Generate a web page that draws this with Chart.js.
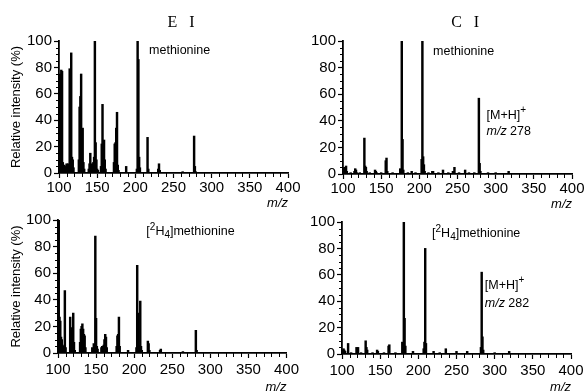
<!DOCTYPE html>
<html>
<head>
<meta charset="utf-8">
<script src="https://cdn.jsdelivr.net/npm/chart.js@4"></script>
<style>
body { margin:0; background:#fff; width:584px; height:392px; overflow:hidden; position:relative; }
canvas { position:absolute; }
</style>
</head>
<body>
<canvas id="ei" width="302" height="211" style="left:0;top:0"></canvas>
<canvas id="ci" width="302" height="212" style="left:290px;top:0"></canvas>
<canvas id="eiD4" width="302" height="215" style="left:0;top:180px"></canvas>
<canvas id="ciD4" width="302" height="215" style="left:290px;top:180px"></canvas>
<script>
// axis ticks
const xTicks = [100, 150, 200, 250, 300, 350, 400];
const yTicks = [0, 20, 40, 60, 80, 100];

// EI, methionine
const eiMz  = [100,101,102,103,104,105,106,107,108,109,110,111,112,114,115,116,117,118,119,126,127,128,129,130,131,132,133,139,140,141,142,143,144,145,146,147,148,149,150,151,155,156,157,158,159,160,161,172,173,174,175,176,177,178,188,202,203,204,205,206,216,217,230,231,232,262,277,278,279];
const eiInt = [72,75,74,78,77,8,4,6,3,5,7,5,7,79,78,91,12,10,4,10,50,58,75,33,34,8,3,3,7,15,6,7,4,8,12,100,23,10,3,2,5,22,52,20,25,10,3,8,22,23,34,46,6,2,5,3,100,86,12,4,27,3,3,7,2,1,28,5,1];

// CI, methionine
const ciMz  = [101,102,103,104,105,110,115,116,117,118,122,128,129,130,131,135,142,143,144,150,156,157,158,165,175,176,177,178,179,185,190,195,203,204,205,206,207,212,217,218,225,231,238,244,246,252,260,265,272,278,279,280,290,300,317];
const ciInt = [4,5,3,6,2,1,2,4,3,1,1,27,6,5,2,1,3,2,1,1,10,12,2,1,4,2,100,26,3,1,2,1,11,100,13,7,2,1,2,2,1,3,1,2,5,1,3,1,1,57,8,2,1,1,2];

// EI, [2H4]methionine
const eiD4Mz  = [100,101,102,103,104,105,106,107,108,109,110,116,117,118,119,120,121,122,129,130,131,132,133,134,135,136,145,147,149,150,151,152,157,158,160,161,162,163,164,177,178,179,180,181,192,203,204,205,206,207,208,209,210,218,219,220,234,235,264,281,282];
const eiD4Int = [25,100,27,24,12,10,6,3,5,47,4,27,19,19,18,30,8,2,8,18,20,22,18,14,13,4,4,7,88,26,5,3,4,5,6,10,14,12,4,5,13,14,27,5,2,4,66,30,6,5,39,5,2,9,7,2,2,3,1,17,2];

// CI, [2H4]methionine
const ciD4Mz  = [101,102,103,104,108,112,119,120,121,125,131,132,133,140,146,147,155,161,162,170,179,180,181,182,183,193,207,208,209,210,220,228,236,250,264,282,283,284,285,300,319];
const ciD4Int = [3,4,3,2,8,1,5,2,5,1,10,5,3,1,3,2,1,6,7,1,9,3,100,27,6,2,4,9,80,8,2,1,4,2,2,5,62,13,3,1,2];

const sans = '"Liberation Sans", Arial, Helvetica, sans-serif';

// draws short unlabeled ticks between the labeled ones
const minorTicks = {
  id: 'minorTicks',
  afterDraw(chart) {
    const ctx = chart.ctx, xs = chart.scales.x, ys = chart.scales.y;
    ctx.save();
    ctx.strokeStyle = '#000';
    ctx.lineWidth = 1;
    ctx.beginPath();
    for (let v = 0; v <= 100; v += 5) {
      if (v % 20 === 0) continue;
      const y = Math.round(ys.getPixelForValue(v)) + 0.5;
      ctx.moveTo(xs.left - 3, y); ctx.lineTo(xs.left, y);
    }
    for (let v = 100; v <= 400; v += 10) {
      if (v % 50 === 0) continue;
      const x = Math.round(xs.getPixelForValue(v)) + 0.5;
      ctx.moveTo(x, ys.bottom); ctx.lineTo(x, ys.bottom + 4);
    }
    ctx.stroke();
    ctx.restore();
  }
};

// text labels placed in data coordinates
const notes = {
  id: 'notes',
  afterDraw(chart, args, opts) {
    const ctx = chart.ctx, xs = chart.scales.x, ys = chart.scales.y;
    ctx.save();
    ctx.fillStyle = '#000';
    ctx.textBaseline = 'middle';
    ctx.textAlign = 'left';
    (opts.items || []).forEach(item => {
      let cx = xs.getPixelForValue(item.x);
      const cy = ys.getPixelForValue(item.y);
      const size = item.size || 12;
      if (item.serif) {
        ctx.font = size + 'px "Liberation Serif", "Times New Roman", serif';
        ctx.textAlign = 'center';
        ctx.fillText(item.parts[0].t, cx, cy);
        ctx.textAlign = 'left';
        return;
      }
      item.parts.forEach(p => {
        const small = p.sup || p.sub;
        const fs = small ? Math.round(size * 0.8) : size;
        ctx.font = (p.it ? 'italic ' : '') + fs + 'px ' + sans;
        const dy = p.sup ? -size * 0.4 : p.sub ? size * 0.3 : 0;
        ctx.fillText(p.t, cx, cy + dy);
        cx += ctx.measureText(p.t).width;
      });
    });
    ctx.restore();
  }
};

function makeChart(id, mz, inten, o) {
  new Chart(document.getElementById(id), {
    type: 'bar',
    data: {
      datasets: [{
        data: mz.map((m, i) => ({ x: m, y: inten[i] })),
        backgroundColor: '#000',
        borderWidth: 0,
        barThickness: 1.8
      }]
    },
    options: {
      responsive: false,
      animation: false,
      layout: { padding: { top: o.padTop, right: o.padRight, left: 0, bottom: 0 } },
      plugins: {
        legend: { display: false },
        tooltip: { enabled: false },
        notes: { items: o.items }
      },
      scales: {
        x: {
          type: 'linear', min: 100, max: 400, offset: false,
          afterBuildTicks: s => { s.ticks = xTicks.map(v => ({ value: v })); },
          afterFit: s => { s.height = o.xHeight; },
          grid: { drawOnChartArea: false, offset: false, tickLength: 5, tickColor: '#000', tickWidth: 1.2 },
          border: { color: '#000', width: 1.8 },
          ticks: { color: '#000', font: { family: sans, size: 15 }, padding: o.tickPad, maxRotation: 0, autoSkip: false },
          title: { display: true, text: 'm/z', align: 'end', color: '#000', padding: 0, font: { family: sans, size: 13, style: 'italic' } }
        },
        y: {
          min: 0, max: 100,
          afterBuildTicks: s => { s.ticks = yTicks.map(v => ({ value: v })); },
          afterFit: s => { s.width = o.yWidth; },
          grid: { drawOnChartArea: false, tickLength: 5, tickColor: '#000', tickWidth: 1.2 },
          border: { color: '#000', width: 1.8 },
          ticks: { color: '#000', font: { family: sans, size: 15 }, padding: 2 },
          title: { display: o.yTitle, text: 'Relative intensity (%)', color: '#000', padding: { top: 9 }, font: { family: sans, size: 13 } }
        }
      }
    },
    plugins: [minorTicks, notes]
  });
}

const methLabel = [{ t: 'methionine' }];
const d4Label = [{ t: '[' }, { t: '2', sup: true }, { t: 'H' }, { t: '4', sub: true }, { t: ']methionine' }];

makeChart('ei', eiMz, eiInt, {
  padTop: 41, padRight: 14, yWidth: 59, xHeight: 38, tickPad: 1, yTitle: true,
  items: [
    { x: 260, y: 114, serif: true, size: 16, parts: [{ t: 'E   I' }] },
    { x: 218, y: 93, size: 12.5, parts: methLabel }
  ]
});
makeChart('ci', ciMz, ciInt, {
  padTop: 41, padRight: 20, yWidth: 53, xHeight: 38, tickPad: 1, yTitle: false,
  items: [
    { x: 260, y: 114, serif: true, size: 16, parts: [{ t: 'C   I' }] },
    { x: 218, y: 92, size: 12.5, parts: methLabel },
    { x: 288, y: 44, size: 12.5, parts: [{ t: '[M+H]' }, { t: '+', sup: true }] },
    { x: 288, y: 32, size: 12.5, parts: [{ t: 'm/z', it: true }, { t: ' 278' }] }
  ]
});
makeChart('eiD4', eiD4Mz, eiD4Int, {
  padTop: 40, padRight: 15, yWidth: 58, xHeight: 42, tickPad: 3, yTitle: true,
  items: [
    { x: 216, y: 91, size: 12.5, parts: d4Label }
  ]
});
makeChart('ciD4', ciD4Mz, ciD4Int, {
  padTop: 42, padRight: 21, yWidth: 52, xHeight: 41, tickPad: 3, yTitle: false,
  items: [
    { x: 218, y: 91, size: 12.5, parts: d4Label },
    { x: 287, y: 52, size: 12.5, parts: [{ t: '[M+H]' }, { t: '+', sup: true }] },
    { x: 287, y: 38, size: 12.5, parts: [{ t: 'm/z', it: true }, { t: ' 282' }] }
  ]
});
</script>
</body>
</html>
